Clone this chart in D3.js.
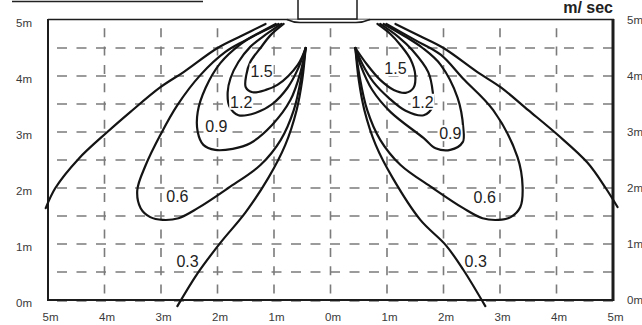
<!DOCTYPE html>
<html>

<head>
  <meta charset="utf-8">
  <title>Air velocity pattern</title>
  <style>
    body {
      margin: 0;
      background: #fff;
    }

    svg {
      display: block;
      font-family: "Liberation Sans", Arial, sans-serif;
    }

    .grid line {
      stroke: #7b7b7b;
      stroke-width: 1.6px;
    }

    .contour {
      fill: none;
      stroke: #141414;
      stroke-width: 2.2px;
      stroke-linejoin: round;
      stroke-linecap: round;
    }

    .axis text {
      font-size: 11.5px;
      fill: #3a3a3a;
    }

    .level-label {
      font-size: 16px;
      fill: #222;
    }
  </style>
</head>

<body>
  <svg id="chart" width="642" height="325"></svg>

  <script src="https://d3js.org/d3.v7.min.js"></script>
  <script>
    // axis ticks (metres from the unit, horizontal and vertical)
    var xTicks = [-5, -4, -3, -2, -1, 0, 1, 2, 3, 4, 5];
    var yTicks = [0, 1, 2, 3, 4, 5];
    var xGridValues = [-4, -3, -2, -1, 0, 1, 2, 3, 4];
    var yGridValues = [0.5, 1, 1.5, 2, 2.5, 3, 3.5, 4, 4.5];

    // velocity levels, m/sec
    var levels = ['0.3', '0.6', '0.9', '1.2', '1.5'];

    // left jet as [x m, y m]
    var outer03Left = [[-1.15, 4.93], [-1.59, 4.71], [-2.00, 4.50], [-2.60, 4.07], [-3.01, 3.80], [-3.54, 3.36], [-3.95, 3.00], [-4.46, 2.52], [-4.87, 2.00], [-5.04, 1.64]];
    var inner03Left = [[-0.44, 4.50], [-0.50, 3.93], [-0.60, 3.39], [-0.80, 2.77], [-1.10, 2.18], [-1.50, 1.57], [-1.95, 1.02], [-2.35, 0.48], [-2.71, -0.11]];
    var loop06Left = [[-0.97, 4.93], [-1.50, 4.64], [-1.86, 4.43], [-2.30, 4.02], [-2.71, 3.48], [-3.01, 2.95], [-3.27, 2.41], [-3.42, 1.96], [-3.36, 1.64], [-3.19, 1.48], [-2.97, 1.43], [-2.69, 1.46], [-2.35, 1.64], [-1.81, 2.00], [-1.24, 2.41], [-0.88, 2.86], [-0.65, 3.39], [-0.51, 4.02], [-0.44, 4.50]];
    var loop09Left = [[-0.92, 4.93], [-1.33, 4.73], [-1.59, 4.57], [-1.95, 4.23], [-2.21, 3.79], [-2.35, 3.36], [-2.35, 3.00], [-2.25, 2.77], [-2.04, 2.68], [-1.73, 2.70], [-1.42, 2.80], [-1.03, 3.13], [-0.71, 3.57], [-0.53, 4.07], [-0.44, 4.50]];
    var loop12Left = [[-0.87, 4.93], [-1.20, 4.70], [-1.42, 4.52], [-1.63, 4.25], [-1.77, 3.96], [-1.82, 3.71], [-1.79, 3.46], [-1.63, 3.30], [-1.33, 3.34], [-1.03, 3.50], [-0.76, 3.79], [-0.57, 4.14], [-0.44, 4.50]];
    var loop15Left = [[-0.83, 4.93], [-1.06, 4.73], [-1.24, 4.50], [-1.42, 4.25], [-1.49, 4.02], [-1.50, 3.80], [-1.38, 3.71], [-1.15, 3.75], [-0.94, 3.84], [-0.58, 4.20], [-0.44, 4.50]];

    // right jet
    var outer03Right = [[1.15, 4.93], [1.59, 4.71], [2.00, 4.50], [2.60, 4.07], [3.01, 3.80], [3.50, 3.39], [4.02, 2.95], [4.55, 2.45], [4.87, 2.00], [5.08, 1.66]];
    var inner03Right = [[0.44, 4.50], [0.50, 3.93], [0.60, 3.39], [0.80, 2.77], [1.10, 2.18], [1.59, 1.43], [2.04, 0.98], [2.35, 0.54], [2.74, -0.11]];
    var loop06Right = [[0.99, 4.93], [1.50, 4.64], [1.95, 4.38], [2.34, 3.96], [2.88, 3.39], [3.31, 2.55], [3.40, 2.02], [3.36, 1.66], [3.19, 1.48], [2.97, 1.43], [2.69, 1.46], [2.35, 1.64], [1.81, 2.00], [1.24, 2.41], [0.88, 2.86], [0.65, 3.39], [0.51, 4.02], [0.44, 4.50]];
    var loop09Right = [[0.94, 4.93], [1.33, 4.70], [1.63, 4.50], [1.95, 4.20], [2.25, 3.61], [2.35, 3.07], [2.34, 2.82], [2.12, 2.68], [1.86, 2.71], [1.65, 2.89], [1.06, 3.36], [0.74, 3.75], [0.53, 4.20], [0.44, 4.50]];
    var loop12Right = [[0.88, 4.93], [1.20, 4.70], [1.45, 4.46], [1.73, 4.07], [1.81, 3.71], [1.81, 3.46], [1.65, 3.30], [1.33, 3.38], [1.03, 3.61], [0.76, 3.89], [0.57, 4.20], [0.44, 4.50]];
    var loop15Right = [[0.83, 4.93], [1.06, 4.75], [1.24, 4.55], [1.42, 4.29], [1.50, 4.02], [1.47, 3.79], [1.33, 3.70], [1.12, 3.75], [0.88, 3.93], [0.65, 4.20], [0.44, 4.50]];

    // where each level is written, [x m, y m], same order as levels
    var labelsLeft = [[-2.53, 0.70], [-2.71, 1.86], [-2.02, 3.11], [-1.58, 3.54], [-1.22, 4.08]];
    var labelsRight = [[2.57, 0.70], [2.73, 1.84], [2.12, 2.98], [1.63, 3.54], [1.15, 4.14]];

    var svg = d3.select('#chart');

    var x = d3.scaleLinear().domain([-5, 5]).range([48, 613]);
    var y = d3.scaleLinear().domain([0, 5]).range([300, 20]);

    // dashed grid
    var grid = svg.append('g').attr('class', 'grid');

    grid.selectAll('line.h')
      .data(yGridValues)
      .enter().append('line')
      .attr('class', 'h')
      .attr('x1', x(-5)).attr('x2', x(5))
      .attr('y1', function(d) { return y(d); })
      .attr('y2', function(d) { return y(d); })
      .style('stroke-dasharray', '10 9.5')
      .style('stroke-dashoffset', 10.5);

    grid.selectAll('line.v')
      .data(xGridValues)
      .enter().append('line')
      .attr('class', 'v')
      .attr('x1', function(d) { return x(d); })
      .attr('x2', function(d) { return x(d); })
      .attr('y1', y(0)).attr('y2', y(5))
      .style('stroke-dasharray', '9 9.3')
      .style('stroke-dashoffset', 11.8);

    // grey dashes along the floor line
    grid.append('line')
      .attr('x1', x(-5)).attr('x2', x(5))
      .attr('y1', y(0) + 1).attr('y2', y(0) + 1)
      .style('stroke-dasharray', '10 9.5')
      .style('stroke-dashoffset', 10.5);

    // frame
    var frame = svg.append('g').style('stroke', '#1c1c1c');
    frame.append('line').attr('x1', x(-5)).attr('x2', x(-5)).attr('y1', 19).attr('y2', y(0) + 1).style('stroke-width', 2);
    frame.append('line').attr('x1', x(5)).attr('x2', x(5)).attr('y1', 19).attr('y2', y(0) + 1).style('stroke-width', 3);
    frame.append('line').attr('x1', x(-5)).attr('x2', x(5) + 1).attr('y1', 19.5).attr('y2', 19.5).style('stroke-width', 1.6);
    frame.append('line').attr('x1', x(-5)).attr('x2', x(5) + 1).attr('y1', y(0)).attr('y2', y(0)).style('stroke-width', 2);

    // the unit on the ceiling
    var unit = svg.append('g').style('stroke', '#1c1c1c').style('stroke-width', 1.5).style('fill', '#fff');
    unit.append('path')
      .attr('d', 'M287,19.5 Q293,22.5 300,22.5 L356,22.5 Q363,22.5 370,19.5');
    unit.append('rect')
      .attr('x', 298).attr('y', -2).attr('width', 59).attr('height', 21);

    // title underline, top left (text itself is cut off)
    svg.append('line')
      .attr('x1', 12).attr('x2', 203).attr('y1', 1.5).attr('y2', 1.5)
      .style('stroke', '#222').style('stroke-width', 1.5);

    svg.append('text')
      .attr('x', 613).attr('y', 13)
      .attr('text-anchor', 'end')
      .style('font-size', '16px')
      .style('font-weight', 'bold')
      .style('fill', '#222')
      .text('m/ sec');

    // contours
    var lineGen = d3.line()
      .x(function(d) { return x(d[0]); })
      .y(function(d) { return y(d[1]); })
      .curve(d3.curveCatmullRom.alpha(0.5));

    var curves = [
      outer03Left, inner03Left, loop06Left, loop09Left, loop12Left, loop15Left,
      outer03Right, inner03Right, loop06Right, loop09Right, loop12Right, loop15Right
    ];

    svg.append('g')
      .selectAll('path')
      .data(curves)
      .enter().append('path')
      .attr('class', 'contour')
      .attr('d', lineGen);

    // level labels
    var labelData = [];
    levels.forEach(function(level, i) {
      labelData.push({ text: level, pos: labelsLeft[i], boxed: i >= 2 });
      labelData.push({ text: level, pos: labelsRight[i], boxed: i >= 2 });
    });

    var labels = svg.append('g')
      .selectAll('g')
      .data(labelData)
      .enter().append('g')
      .attr('transform', function(d) { return 'translate(' + x(d.pos[0]) + ',' + y(d.pos[1]) + ')'; });

    labels.filter(function(d) { return d.boxed; })
      .append('rect')
      .attr('x', -12).attr('y', -8)
      .attr('width', 24).attr('height', 16)
      .style('fill', '#fff');

    labels.append('text')
      .attr('class', 'level-label')
      .attr('text-anchor', 'middle')
      .attr('dy', '0.36em')
      .text(function(d) { return d.text; });

    // axes
    var fmt = function(d) { return Math.abs(d) + 'm'; };

    svg.append('g')
      .attr('class', 'axis')
      .attr('transform', 'translate(2,' + y(0) + ')')
      .call(d3.axisBottom(x).tickValues(xTicks).tickSize(0).tickPadding(13).tickFormat(fmt))
      .call(function(g) { g.select('.domain').remove(); });

    svg.append('g')
      .attr('class', 'axis')
      .attr('transform', 'translate(' + x(-5) + ',3)')
      .call(d3.axisLeft(y).tickValues(yTicks).tickSize(0).tickPadding(16).tickFormat(fmt))
      .call(function(g) { g.select('.domain').remove(); });

    svg.append('g')
      .attr('class', 'axis')
      .attr('transform', 'translate(' + x(5) + ',0)')
      .call(d3.axisRight(y).tickValues(yTicks).tickSize(0).tickPadding(14).tickFormat(fmt))
      .call(function(g) { g.select('.domain').remove(); });
  </script>
</body>

</html>
